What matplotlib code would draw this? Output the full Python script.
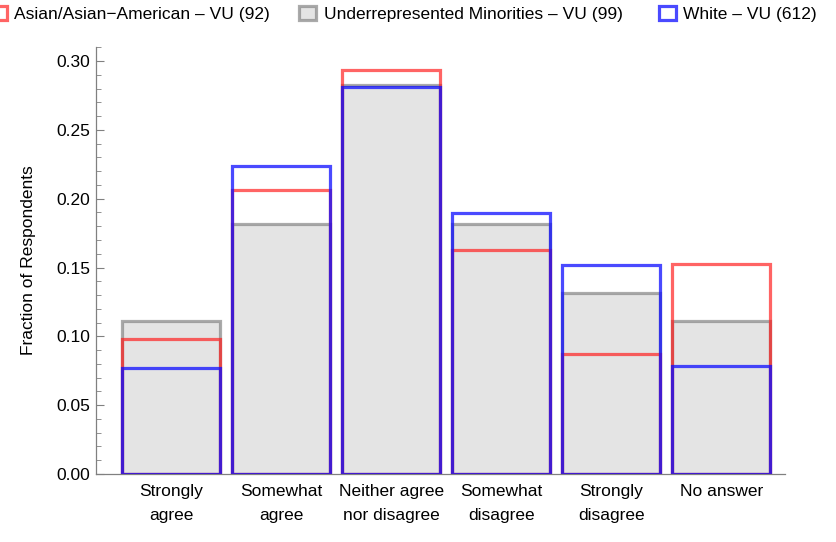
import numpy as np
import matplotlib
matplotlib.use('Agg')
from matplotlib import pyplot as plt
from matplotlib.patches import Rectangle

plt.rcParams['font.family'] = ['Liberation Sans', 'DejaVu Sans']

categories = ['Strongly\nagree', 'Somewhat\nagree', 'Neither agree\nnor disagree',
              'Somewhat\ndisagree', 'Strongly\ndisagree', 'No answer']
asian = [0.0978, 0.2065, 0.2935, 0.1630, 0.0870, 0.1522]
urm = [0.1111, 0.1818, 0.2828, 0.1818, 0.1313, 0.1111]
white = [0.0768, 0.2239, 0.2810, 0.1895, 0.1520, 0.0784]
labels = ['Asian/Asian\u2212American \u2013 VU (92)',
          'Underrepresented Minorities \u2013 VU (99)',
          'White \u2013 VU (612)']

red = (1.0, 0.1, 0.1, 0.68)
gray = (0.45, 0.45, 0.45, 0.6)
blue = (0.05, 0.05, 1.0, 0.75)
fill = '#e4e4e4'
fs = 12.5

fig = plt.figure(figsize=(8.37, 5.42), dpi=100)
ax = fig.add_axes([96/837, 68/542, 689/837, 427/542])

x = np.arange(len(categories))
w = 0.89
lw = 2.3
ax.bar(x, urm, width=w, color=fill, edgecolor=gray, linewidth=lw, zorder=2)
ax.bar(x, asian, width=w, color='none', edgecolor=red, linewidth=lw, zorder=3)
ax.bar(x, white, width=w, color='none', edgecolor=blue, linewidth=lw, zorder=4)

ax.set_xlim(-0.682, 5.58)
ax.set_ylim(0, 0.3102)
ax.set_xticks(x)
ax.set_xticklabels(categories, fontsize=fs, linespacing=1.8)
ax.set_yticks(np.arange(0, 0.31, 0.05))
ax.set_yticklabels(['%.2f' % v for v in np.arange(0, 0.31, 0.05)], fontsize=fs)
ax.set_yticks(np.arange(0, 0.311, 0.01), minor=True)
ax.tick_params(axis='y', which='major', direction='in', length=5.5, color='#808080', pad=4)
ax.tick_params(axis='y', which='minor', direction='in', length=3.5, color='#808080')
ax.tick_params(axis='x', which='major', direction='in', length=3, color='#808080', pad=7)
for s in ['top', 'right']:
    ax.spines[s].set_visible(False)
for s in ['left', 'bottom']:
    ax.spines[s].set_color('#808080')
    ax.spines[s].set_linewidth(0.9)
ax.set_ylabel('Fraction of Respondents', fontsize=fs)
ax.yaxis.set_label_coords(-0.087, 0.5)

# legend row across the top
leg_x = [-10, 299, 659]
text_x = [14, 324, 683]
for c, f, lx, tx, lab in zip([red, gray, blue], ['white', fill, 'white'], leg_x, text_x, labels):
    fig.add_artist(Rectangle((lx/837, 1 - 20/542), 17/837, 14/542, transform=fig.transFigure,
                             facecolor=f, edgecolor=c, linewidth=2.3))
    fig.text(tx/837, 1 - 14/542, lab, fontsize=fs, va='center', ha='left')

fig.savefig('out.png', dpi=100)
